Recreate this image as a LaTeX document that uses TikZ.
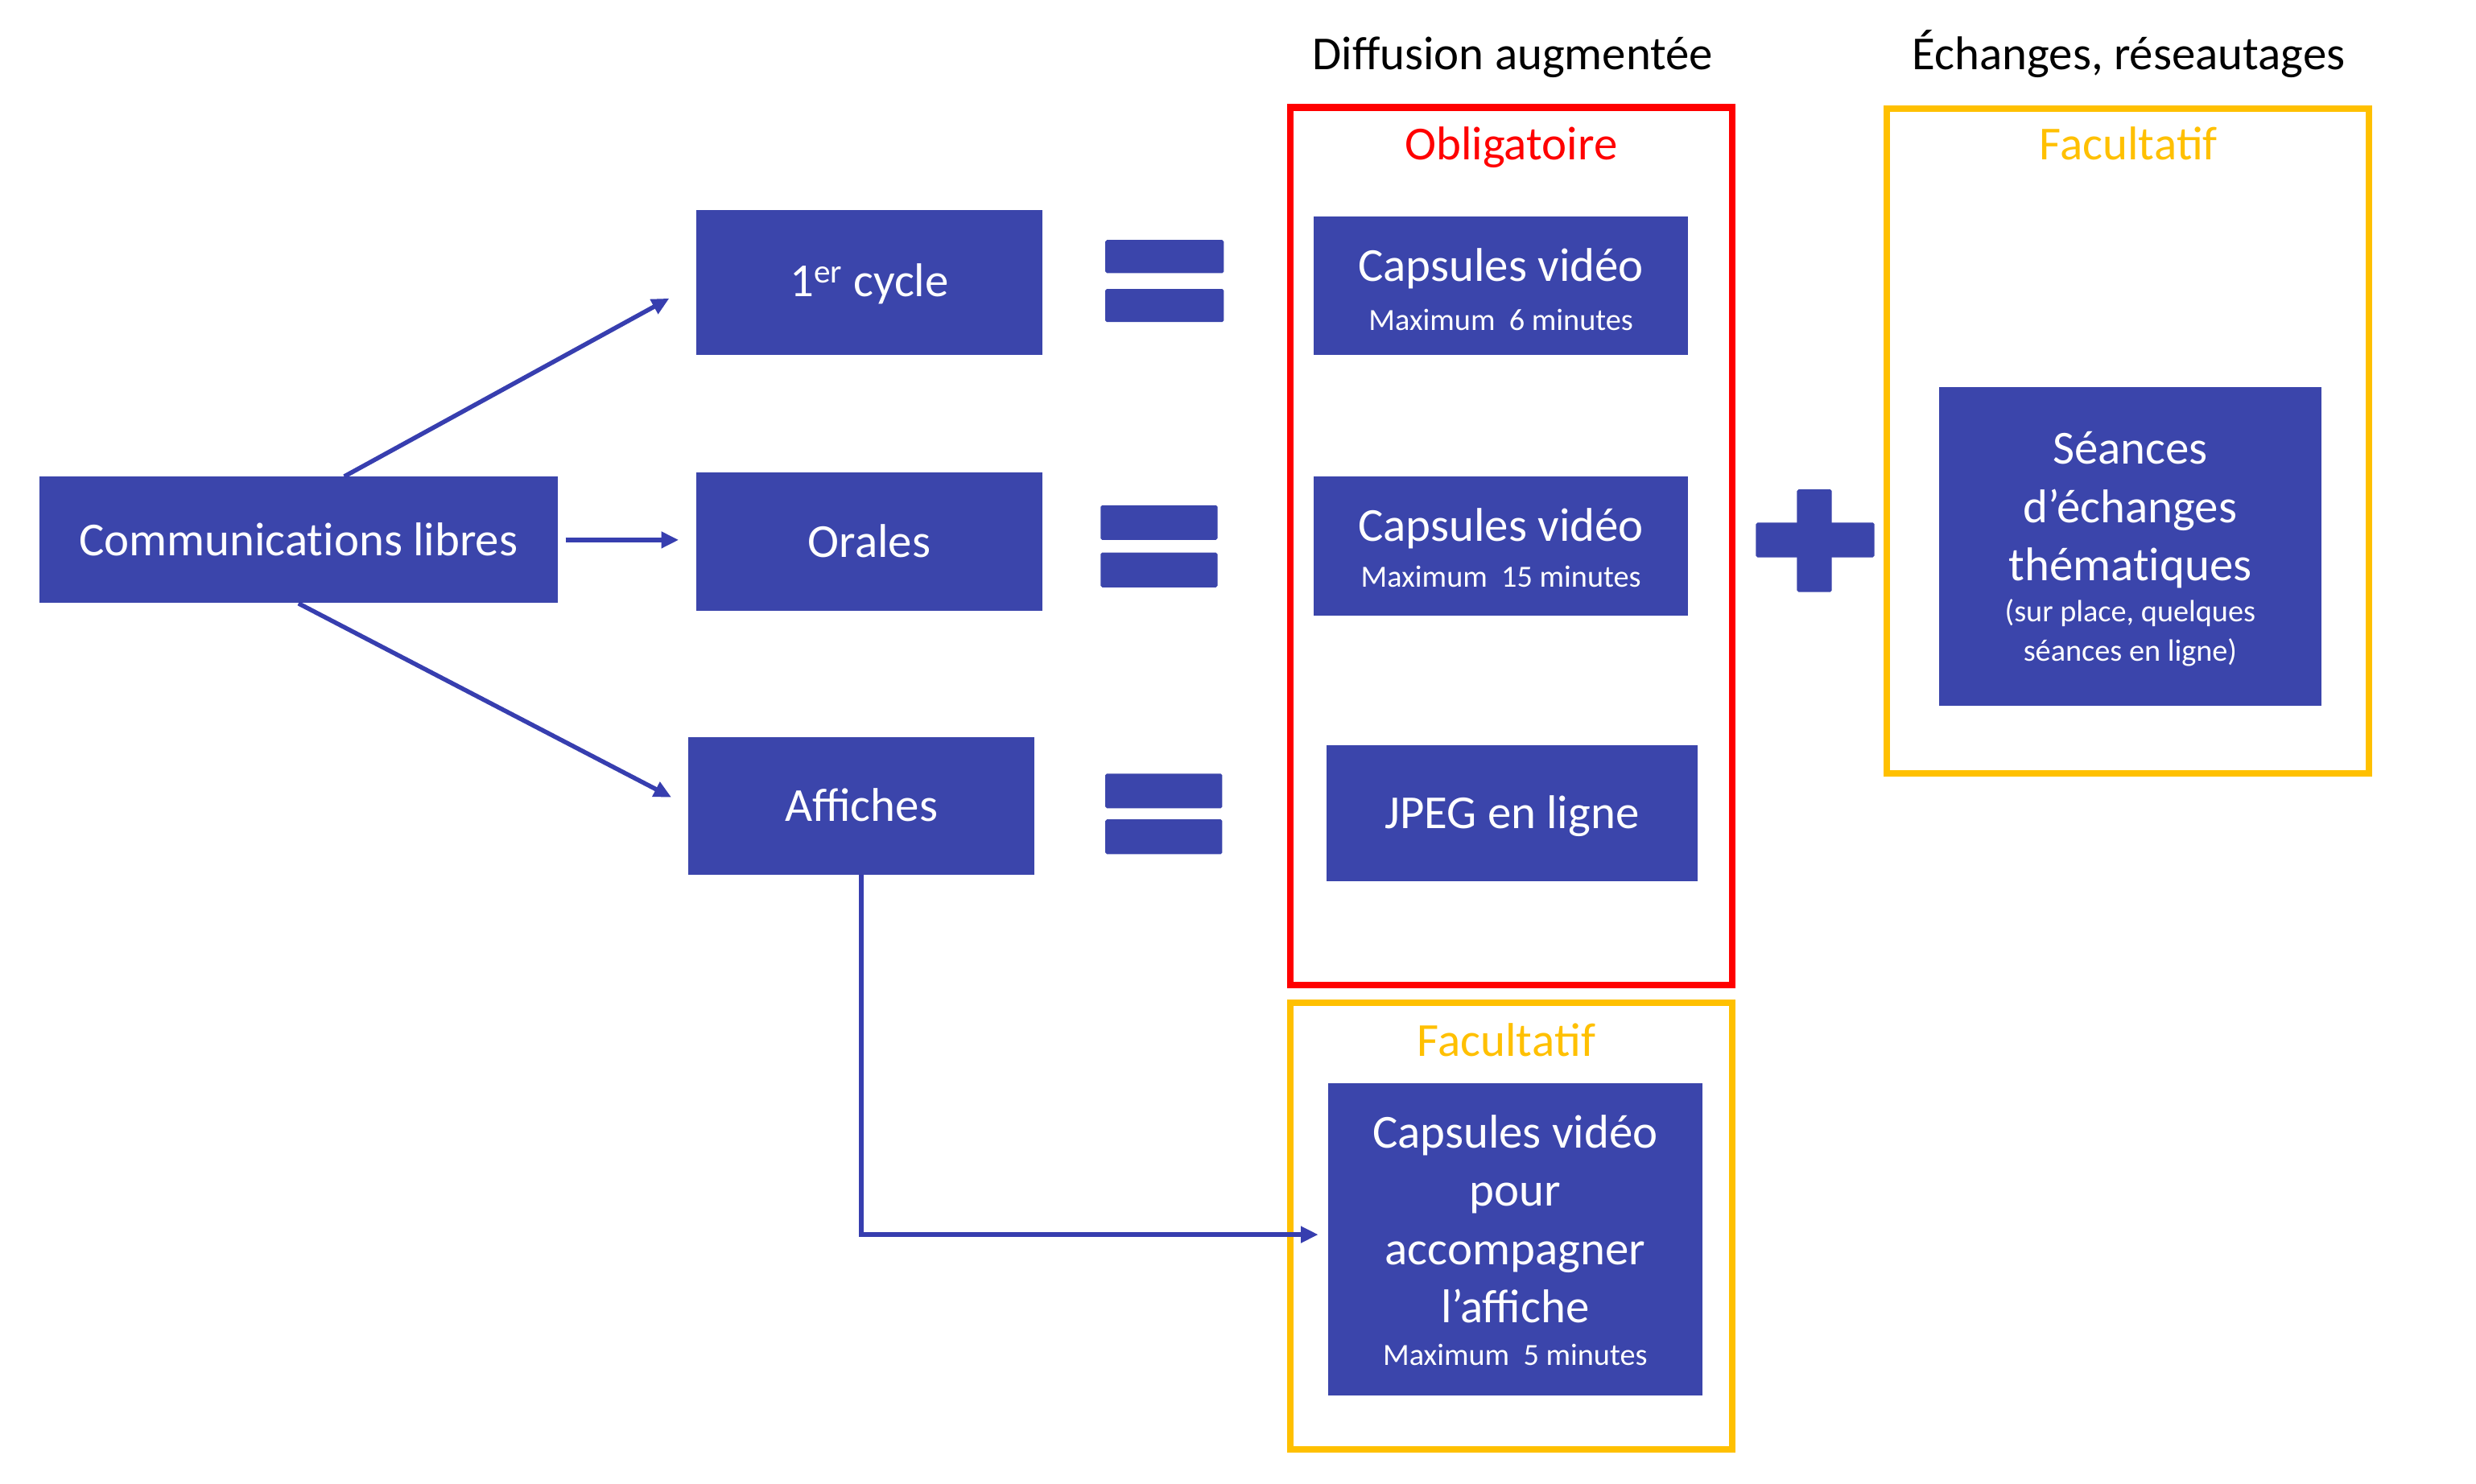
\documentclass[tikz,border=0pt]{standalone}
\usepackage{fontspec}
\setmainfont{Carlito}
\usetikzlibrary{arrows.meta}
\definecolor{boxblue}{RGB}{59,69,171}
\definecolor{arrblue}{RGB}{55,62,175}
\definecolor{obred}{RGB}{255,0,0}
\definecolor{facyel}{RGB}{255,192,0}
\tikzset{
  bluebox/.style={fill=boxblue, draw=none, inner sep=0pt},
  bar/.style={fill=boxblue, draw=none, inner sep=0pt, rounded corners=1pt},
  big/.style={font=\fontsize{30}{36}\selectfont},
  small/.style={font=\fontsize{19.5}{24}\selectfont},
  wtxt/.style={text=white, anchor=base, inner sep=0pt},
  ttl/.style={anchor=base, inner sep=0pt},
  frame/.style={draw=#1, line width=4.2pt, fill=none, inner sep=0pt},
  arr/.style={draw=arrblue, line width=2.8pt, -{Triangle[length=11pt,width=10pt]}}
}
\begin{document}
\begin{tikzpicture}[x=1pt,y=-1pt]
\fill[white] (0,0) rectangle (1568,939.5);
\useasboundingbox (0,0) rectangle (1568,939.5);

% headings
\node[ttl,big] (h1) at (958,44) {Diffusion augmentée};
\node[ttl,big] (h2) at (1348,44) {Échanges, réseautages};

% frames
\node[frame=obred, minimum width=280, minimum height=556] (oblig) at (957,346) {};
\node[frame=facyel, minimum width=280, minimum height=283] (facb) at (957,776.5) {};
\node[frame=facyel, minimum width=305, minimum height=421] (facr) at (1347.5,279.5) {};
\node[ttl,big,text=obred] (obligt) at (957,101) {Obligatoire};
\node[ttl,big,text=facyel] (facrt) at (1348,101) {Facult\kern0pt atif};
\node[ttl,big,text=facyel] (facbt) at (954,669) {Facult\kern0pt atif};

% left boxes
\node[bluebox, minimum width=328, minimum height=80] (comm) at (189,342) {};
\node[wtxt,big] (commt) at (189,352) {Communicat\kern0pt ions libres};
\node[bluebox, minimum width=219, minimum height=92] (cycle) at (550.5,179) {};
\node[wtxt,big] (cyclet) at (550.5,188) {1\textsuperscript{er} cycle};
\node[bluebox, minimum width=219, minimum height=88] (orales) at (550.5,343) {};
\node[wtxt,big] (oralest) at (550.5,353) {Orales};
\node[bluebox, minimum width=219, minimum height=87] (affiches) at (545.5,510.5) {};
\node[wtxt,big] (affichest) at (545.5,520) {Affiches};

% equals signs
\node[bar, minimum width=75, minimum height=21] (eq1a) at (737.5,162.5) {};
\node[bar, minimum width=75, minimum height=21] (eq1b) at (737.5,193.5) {};
\node[bar, minimum width=74, minimum height=22] (eq2a) at (734,331) {};
\node[bar, minimum width=74, minimum height=22] (eq2b) at (734,361) {};
\node[bar, minimum width=74, minimum height=22] (eq3a) at (737,501) {};
\node[bar, minimum width=74, minimum height=22] (eq3b) at (737,530) {};

% plus sign
\node[bar, minimum width=75, minimum height=22] (plush) at (1149.5,342) {};
\node[bar, minimum width=22, minimum height=65] (plusv) at (1149,342.5) {};

% mandatory boxes
\node[bluebox, minimum width=237, minimum height=88] (cap1) at (950.5,181) {};
\node[wtxt,big] (cap1t) at (950.5,178) {Capsules vidéo};
\node[wtxt,small] (cap1s) at (950.5,209) {Maximum\ \ 6 minutes};
\node[bluebox, minimum width=237, minimum height=88] (cap2) at (950.5,346) {};
\node[wtxt,big] (cap2t) at (950.5,343) {Capsules vidéo};
\node[wtxt,small] (cap2s) at (950.5,372) {Maximum\ \ 15 minutes};
\node[bluebox, minimum width=235, minimum height=86] (jpeg) at (957.5,515) {};
\node[wtxt,big] (jpegt) at (957.5,525) {JPEG en ligne};

% optional poster video
\node[bluebox, minimum width=237, minimum height=198] (cap3) at (959.5,785) {};
\node[wtxt,big] (cap3a) at (959.5,727) {Capsules vidéo};
\node[wtxt,big] (cap3b) at (959.5,764) {pour};
\node[wtxt,big] (cap3c) at (959.5,801) {accompagner};
\node[wtxt,big] (cap3d) at (959.5,838) {l’affiche};
\node[wtxt,small] (cap3s) at (959.5,865) {Maximum\ \ 5 minutes};

% thematic sessions
\node[bluebox, minimum width=242, minimum height=202] (seances) at (1349,346) {};
\node[wtxt,big] (sea) at (1349,294) {Séances};
\node[wtxt,big] (seb) at (1349,331) {d’échanges};
\node[wtxt,big] (sec) at (1349,368) {thémat\kern0pt iques};
\node[wtxt,small] (sed) at (1349,394) {(sur place, quelques};
\node[wtxt,small] (see) at (1349,419) {séances en ligne)};

% connectors
\coordinate (a1s) at ([xshift=29pt]comm.north);
\coordinate (a1e) at ([xshift=-17pt,yshift=-10pt]cycle.west);
\draw[arr] (a1s) -- (a1e);
\draw[arr, shorten <=5pt, shorten >=11pt] (comm.east) -- (comm.east -| orales.west);
\draw[arr, shorten >=12pt] (comm.south) -- (affiches.west);
\draw[arr, shorten >=6pt] (affiches.south) |- ([yshift=3pt]cap3.west);
\end{tikzpicture}
\end{document}
